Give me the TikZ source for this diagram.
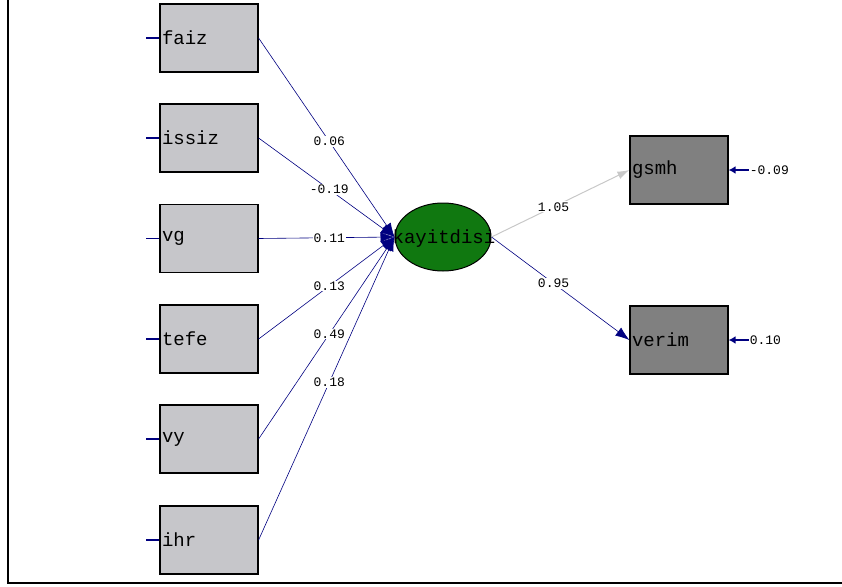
\documentclass[tikz,border=0pt]{standalone}
\usepackage{fontspec}
\setmonofont{Liberation Mono}
\usetikzlibrary{shapes.geometric,arrows.meta}

\definecolor{pathblue}{RGB}{0,0,128}
\definecolor{latgreen}{RGB}{16,120,16}
\definecolor{lightbox}{RGB}{198,198,202}
\definecolor{darkbox}{RGB}{128,128,128}
\definecolor{fadegray}{RGB}{200,200,200}

\tikzset{
  obsbox/.style={draw=black, line width=1.2pt, fill=lightbox, minimum width=98pt,
    minimum height=68pt, text width=94pt, align=left, inner sep=2pt,
    font=\ttfamily\fontsize{19}{19}\selectfont},
  endbox/.style={obsbox, fill=darkbox},
  latent/.style={ellipse, draw=black, line width=1pt, fill=latgreen, minimum width=96pt,
    minimum height=68pt, inner sep=0pt},
  lattext/.style={inner sep=0pt, font=\ttfamily\fontsize{19}{19}\selectfont},
  coef/.style={fill=white, text=black, inner sep=1pt, font=\ttfamily\fontsize{13}{13}\selectfont},
  errlab/.style={inner sep=1pt, anchor=west, font=\ttfamily\fontsize{13}{13}\selectfont},
  causepath/.style={pathblue, line width=0.6pt, -{Latex[length=14pt,width=10pt]}},
  fadepath/.style={fadegray, line width=1pt, -{Latex[length=12pt,width=8pt]}},
  stub/.style={pathblue, line width=1.2pt},
  errarrow/.style={pathblue, line width=2.4pt, -{Latex[length=7pt,width=8pt]}}
}

\begin{document}
\begin{tikzpicture}[x=1pt,y=-1pt]
    \useasboundingbox (0,0) rectangle (842,586);
    \draw[line width=2pt] (8,0) -- (8,583) -- (842,583);

    % observed causes
    \node[obsbox] (faiz) at (209,38) {faiz};
    \node[obsbox] (issiz) at (209,138) {issiz};
    \node[obsbox] (vg) at (209,238.5) {vg};
    \node[obsbox] (tefe) at (209,339) {tefe};
    \node[obsbox] (vy) at (209,439) {vy};
    \node[obsbox] (ihr) at (209,540) {ihr};

    % latent variable and indicators
    \node[latent] (kayitdisi) at (443,237) {};
    \node[lattext] (kaytext) at (444,239) {kayitdisi};
    \node[endbox] (gsmh) at (679,170) {gsmh};
    \node[endbox] (verim) at (679,340) {verim};

    % short stubs on the left
    \coordinate (sfaiz) at ([xshift=-13pt]faiz.west);
    \coordinate (sissiz) at ([xshift=-13pt]issiz.west);
    \coordinate (svg) at ([xshift=-13pt]vg.west);
    \coordinate (stefe) at ([xshift=-13pt]tefe.west);
    \coordinate (svy) at ([xshift=-13pt]vy.west);
    \coordinate (sihr) at ([xshift=-13pt]ihr.west);
    \draw[stub] (sfaiz) -- (faiz.west);
    \draw[stub] (sissiz) -- (issiz.west);
    \draw[stub] (svg) -- (vg.west);
    \draw[stub] (stefe) -- (tefe.west);
    \draw[stub] (svy) -- (vy.west);
    \draw[stub] (sihr) -- (ihr.west);

    % paths into kayitdisi
    \draw[causepath] (faiz.east) -- node[coef,pos=0.52]{0.06} (kayitdisi.west);
    \draw[causepath] (issiz.east) -- node[coef,pos=0.52]{-0.19} (kayitdisi.west);
    \draw[causepath] (vg.east) -- node[coef,pos=0.52]{0.11} (kayitdisi.west);
    \draw[causepath] (tefe.east) -- node[coef,pos=0.52]{0.13} (kayitdisi.west);
    \draw[causepath] (vy.east) -- node[coef,pos=0.52]{0.49} (kayitdisi.west);
    \draw[causepath] (ihr.east) -- node[coef,pos=0.52]{0.18} (kayitdisi.west);

    % loadings
    \draw[fadepath] (kayitdisi.east) -- node[coef,pos=0.45]{1.05} (gsmh.west);
    \draw[causepath] (kayitdisi.east) -- node[coef,pos=0.45]{0.95} (verim.west);

    % error terms
    \coordinate (egsmh) at ([xshift=20pt]gsmh.east);
    \coordinate (everim) at ([xshift=20pt]verim.east);
    \draw[errarrow] (egsmh) -- (gsmh.east);
    \draw[errarrow] (everim) -- (verim.east);
    \node[errlab] (lgsmh) at (egsmh) {-0.09};
    \node[errlab] (lverim) at (everim) {0.10};
\end{tikzpicture}
\end{document}
